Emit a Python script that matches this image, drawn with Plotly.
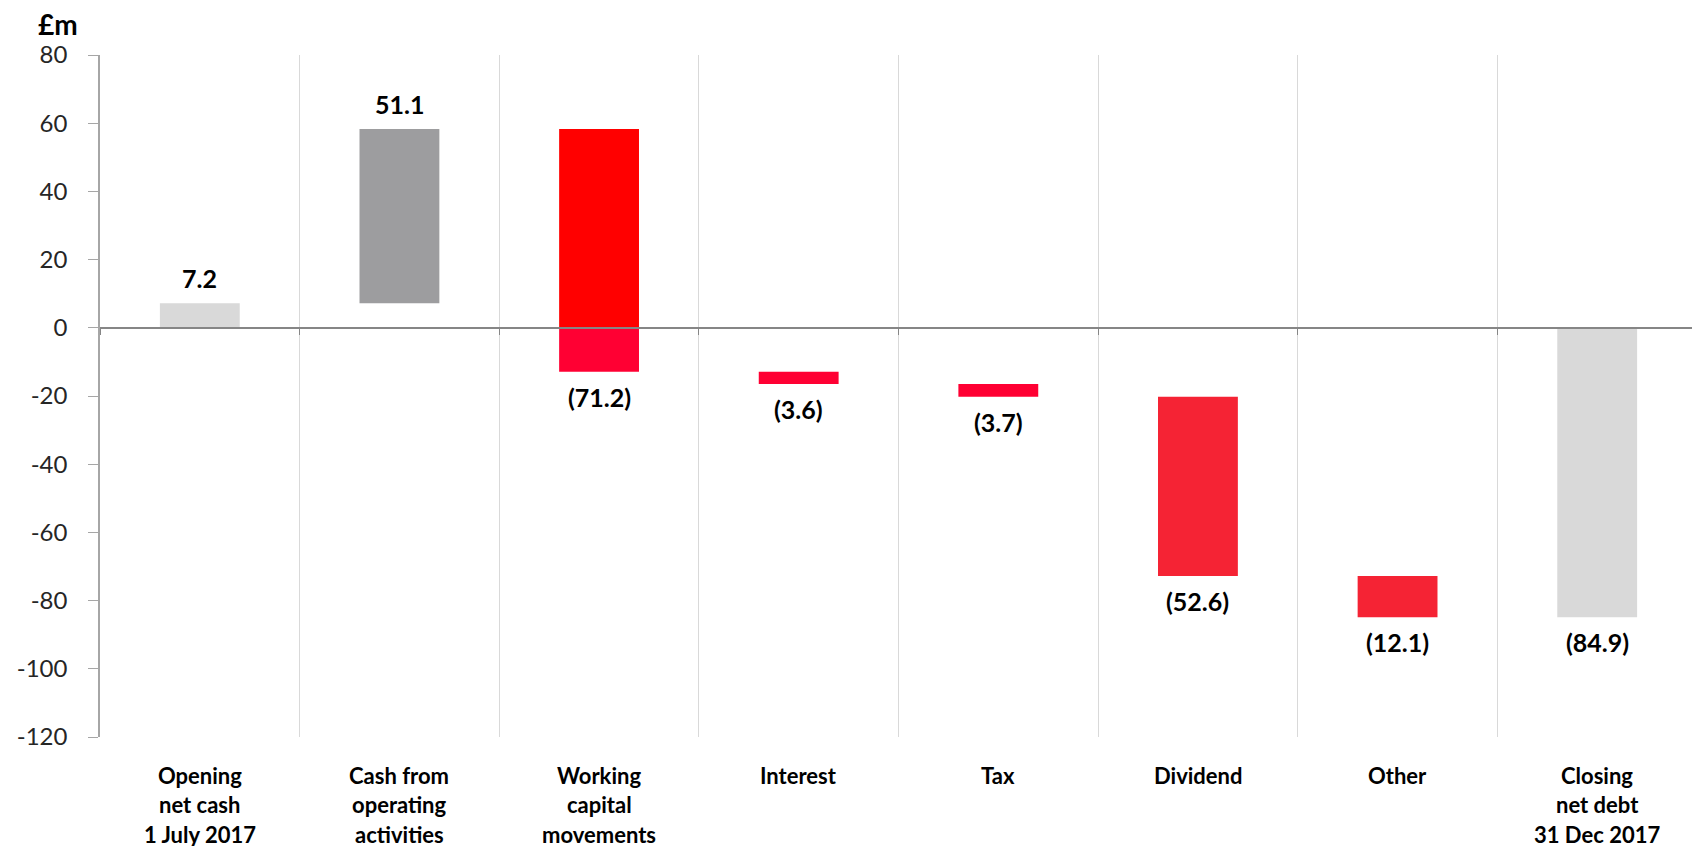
import plotly.graph_objects as go

categories = [
    "Opening<br>net cash<br>1 July 2017",
    "Cash from<br>operating<br>activities",
    "Working<br>capital<br>movements",
    "Interest",
    "Tax",
    "Dividend",
    "Other",
    "Closing<br>net debt<br>31 Dec 2017",
]
values = [7.2, 51.1, -71.2, -3.6, -3.7, -52.6, -12.1, -84.9]
is_total = [True, False, False, False, False, False, False, True]
y_ticks = [80, 60, 40, 20, 0, -20, -40, -60, -80, -100, -120]

# colours of each bar above / below the zero line
colors_above = ["#D9D9D9", "#9D9D9F", "#FF0000", "#FF0033", "#FF0033", "#F52334", "#F52334", "#D9D9D9"]
colors_below = ["#D9D9D9", "#9D9D9F", "#FF0033", "#FF0033", "#FF0033", "#F52334", "#F52334", "#D9D9D9"]

# waterfall segments
starts, ends = [], []
running = 0.0
for v, tot in zip(values, is_total):
    if tot:
        starts.append(0.0)
        ends.append(v)
        running = v
    else:
        starts.append(running)
        running = running + v
        ends.append(running)

lo = [min(a, b) for a, b in zip(starts, ends)]
hi = [max(a, b) for a, b in zip(starts, ends)]
up_base = [max(l, 0) for l in lo]
up_h = [max(h, 0) - max(l, 0) for l, h in zip(lo, hi)]
dn_base = [min(l, 0) for l in lo]
dn_h = [min(h, 0) - min(l, 0) for l, h in zip(lo, hi)]

n = len(categories)
idx = list(range(n))
ymin, ymax = min(y_ticks), max(y_ticks)

fig = go.Figure()
fig.add_trace(go.Bar(x=idx, y=up_h, base=up_base, width=0.4,
                     marker=dict(color=colors_above, line=dict(width=0)), showlegend=False))
fig.add_trace(go.Bar(x=idx, y=dn_h, base=dn_base, width=0.4,
                     marker=dict(color=colors_below, line=dict(width=0)), showlegend=False))
# invisible trace so the zero-crossing axis (with boundary ticks) gets drawn
fig.add_trace(go.Scatter(x=idx, y=values, xaxis="x2", mode="markers",
                         marker=dict(opacity=0), hoverinfo="skip", showlegend=False))

label_font = dict(family="Lato", size=25, color="#000000", weight="bold")
for i, v, l, h in zip(idx, values, lo, hi):
    txt = f"{v:.1f}" if v >= 0 else f"({abs(v):.1f})"
    if v >= 0:
        fig.add_annotation(x=i, y=h, text=txt, showarrow=False, yanchor="bottom", yshift=8, font=label_font)
    else:
        fig.add_annotation(x=i, y=l, text=txt, showarrow=False, yanchor="top", yshift=-8, font=label_font)

# category labels, one annotation per line
for i, c in zip(idx, categories):
    for k, line in enumerate(c.split("<br>")):
        fig.add_annotation(x=i, xref="x", yref="paper", y=0, yanchor="middle", yshift=-38 - 29.5 * k,
                           text=line, showarrow=False,
                           font=dict(family="Lato", size=22, color="#000000", weight="bold"))

fig.add_annotation(xref="paper", yref="paper", x=-0.04, y=1.046, xanchor="left", yanchor="middle",
                   text="<b>£m</b>", showarrow=False,
                   font=dict(family="Lato", size=28, color="#000000"))

fig.update_layout(
    width=1700, height=846,
    margin=dict(l=92, r=11, t=47, b=117),
    plot_bgcolor="white", paper_bgcolor="white",
    barmode="overlay",
    xaxis=dict(range=[-0.5, n - 0.5], showgrid=False, showticklabels=False, ticks="",
               showline=False, zeroline=False, automargin=False),
    xaxis2=dict(overlaying="x", anchor="free", position=(0 - ymin) / (ymax - ymin),
                range=[-0.5, n - 0.5],
                tickvals=[i - 0.5 for i in range(n + 1)],
                ticks="outside", ticklen=6, tickcolor="#868686", showticklabels=False,
                showline=True, linecolor="#868686", linewidth=1.5,
                showgrid=True, gridcolor="#D9D9D9", gridwidth=1, zeroline=False, automargin=False),
    yaxis=dict(range=[ymin, ymax], tickvals=y_ticks, ticktext=[str(t) for t in y_ticks],
               showgrid=False, zeroline=False,
               showline=True, linecolor="#A6A6A6", linewidth=1.5,
               ticks="outside", ticklen=10, tickcolor="#A6A6A6",
               tickfont=dict(family="Lato", size=24, color="#262626"),
               ticklabelstandoff=16, automargin=False),
)

fig.write_html("out.html")
